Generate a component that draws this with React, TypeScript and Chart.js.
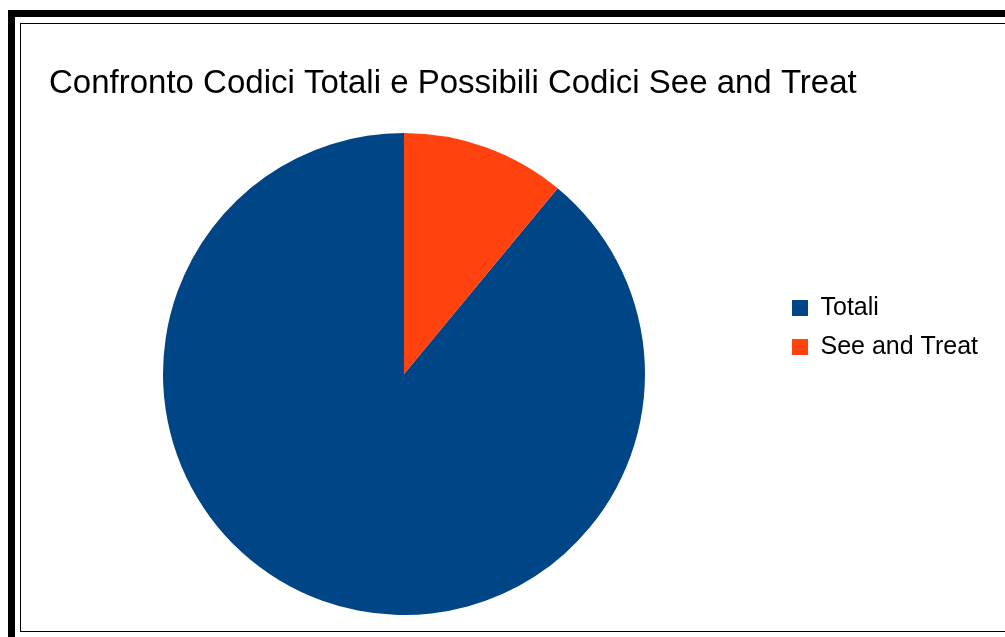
import React, { useEffect, useRef } from "react";
import { Chart, registerables } from "chart.js";

Chart.register(...registerables);

const chartTitle = "Confronto Codici Totali e Possibili Codici See and Treat";
const categories = ["Totali", "See and Treat"];
const seriesValues = [89, 11];
const sliceColors = ["#004586", "#ff420e"];

const titleShift = {
  id: "titleShift",
  afterLayout(chart: any) {
    const t = chart.titleBlock;
    if (t) {
      t.left += 19;
      t.right += 19;
    }
  },
};

export default function App() {
  const ref = useRef<HTMLCanvasElement | null>(null);

  useEffect(() => {
    if (!ref.current) return;
    const total = seriesValues.reduce((a, b) => a + b, 0);
    // LibreOffice draws slices counter-clockwise from 12 o'clock; emulate by rotating
    const rotation = (seriesValues[seriesValues.length - 1] / total) * 360;
    const chart = new Chart(ref.current, {
      type: "pie",
      data: {
        labels: categories,
        datasets: [
          {
            data: seriesValues,
            backgroundColor: sliceColors,
            borderWidth: 0,
            hoverOffset: 0,
            offset: 0,
          },
        ],
      },
      options: {
        animation: false,
        responsive: false,
        rotation,
        radius: 241,
        events: [],
        layout: { padding: { left: 9, right: 17, top: 0, bottom: 0 } },
        plugins: {
          tooltip: { enabled: false },
          title: {
            display: true,
            text: chartTitle,
            align: "start",
            color: "#000",
            font: { family: "'Liberation Sans', Arial, sans-serif", size: 33, weight: "normal", lineHeight: 1.2 },
            padding: { top: 40, bottom: 13.4 },
          },
          legend: {
            display: true,
            position: "right",
            align: "center",
            labels: {
              boxWidth: 16,
              boxHeight: 16,
              padding: 14,
              color: "#000",
              font: { family: "'Liberation Sans', Arial, sans-serif", size: 25, weight: "normal" },
            },
          },
        },
      },
      plugins: [titleShift],
    });
    return () => chart.destroy();
  }, []);

  return (
    <div style={{ position: "fixed", left: 0, top: 0, width: 1005, height: 637, overflow: "hidden", background: "#fff" }}>
      <div
        style={{
          position: "absolute",
          left: 8,
          top: 10,
          width: 1200,
          height: 900,
          border: "7px solid #000",
          boxSizing: "border-box",
        }}
      />
      <div
        style={{
          position: "absolute",
          left: 20,
          top: 23,
          width: 1200,
          height: 609,
          border: "1px solid #000",
          boxSizing: "border-box",
          background: "#fff",
        }}
      />
      <canvas
        ref={ref}
        width={984}
        height={607}
        style={{ position: "absolute", left: 21, top: 24, width: 984, height: 607 }}
      />
    </div>
  );
}
